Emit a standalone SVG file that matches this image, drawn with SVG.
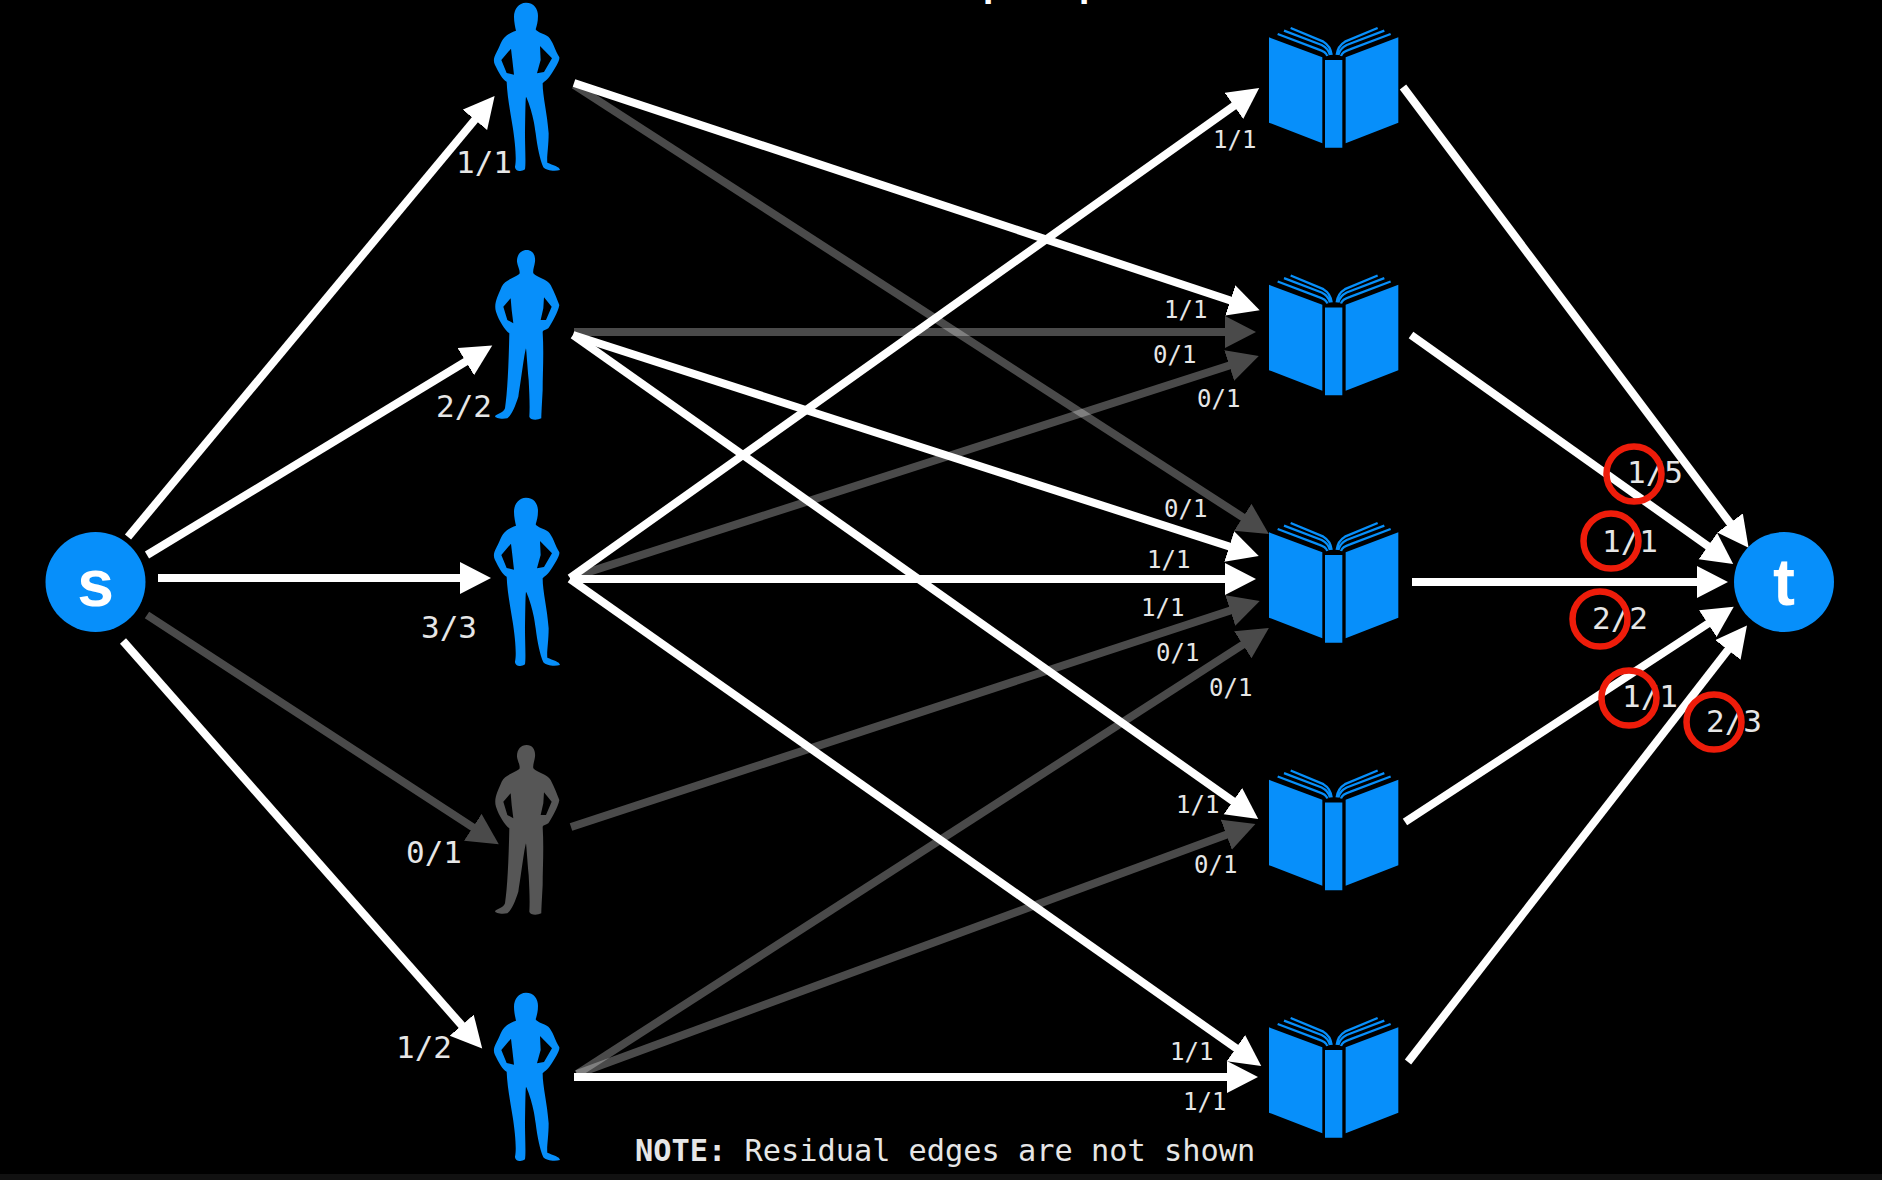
<svg xmlns="http://www.w3.org/2000/svg" width="1882" height="1180" viewBox="0 0 1882 1180">
<style>
.w{stroke:#fff;stroke-width:8;fill:none;marker-end:url(#aw)}
.g{stroke:#fff;stroke-width:8;fill:none;marker-end:url(#aw);opacity:.29}
.l{font-family:"DejaVu Sans Mono",monospace;fill:#e6e6e6;font-size:31px}
.m{font-family:"DejaVu Sans Mono",monospace;fill:#e6e6e6;font-size:24px}
.n{font-family:"DejaVu Sans Mono",monospace;fill:#e6e6e6;font-size:30.3px}
.c{font-family:"Liberation Sans",Arial,sans-serif;font-weight:700;font-size:66px;fill:#fff;text-anchor:middle}
.r{fill:none;stroke:#ee1c0a;stroke-width:6.500}
.b{fill:#078ffa}
.p{fill:none;stroke:#078ffa;stroke-width:7}
.q{font-family:"DejaVu Sans",sans-serif;font-weight:700;font-size:30px;fill:#fff}
</style>
<defs>
<marker id="aw" markerUnits="userSpaceOnUse" markerWidth="34" markerHeight="34" refX="5" refY="16" orient="auto"><path d="M0 0L31 16L0 32Z" fill="#fff"/></marker>
<path id="female" fill-rule="evenodd" d="M258 8C282 8 294 26 294 48C294 66 290 78 287 88C293 98 310 100 325 110C338 122 345 150 358 172C360 182 345 205 332 225C322 240 312 245 308 250C308 290 322 340 326 400C326 440 320 470 322 488C338 495 360 500 360 510C345 515 318 512 310 502C300 480 292 440 287 400C282 350 264 300 258 290C256 305 256 350 255 400C255 440 258 490 255 508C242 518 225 512 225 500C230 480 226 430 218 380C210 330 202 290 200 245C188 240 175 215 165 195C155 175 170 160 180 135C190 110 205 100 228 92C226 82 222 66 222 50C222 28 236 8 258 8ZM213 146L184 180L200 219L222 224L217 180ZM300 138L336 175L312 216L291 220L302 180Z"/>
<path id="male" fill-rule="evenodd" d="M170 30C188 30 197 45 195 65C193 80 188 90 190 100C200 112 232 118 242 135C255 160 262 180 268 195C265 215 245 250 235 265C228 270 220 270 218 275C222 340 218 400 218 450C216 490 214 520 214 535C200 542 180 540 178 530C180 500 178 460 176 420C172 380 170 340 168 325C162 345 155 410 145 470C135 500 125 525 112 535C95 538 75 535 75 528C85 520 100 518 105 505C112 460 116 380 118 280C105 270 88 245 78 215C70 190 85 165 95 140C105 120 130 115 148 102C152 92 143 80 141 65C140 45 152 30 170 30ZM122 175L100 200L112 240L130 250L125 210ZM222 172L245 200L228 240L212 240L220 205Z"/>
<g id="book">
<path class="b" d="M87 112L247 172V430L87 368ZM317 172L475 112V368L317 430ZM255 180H307V443H255Z"/>
<path class="p" d="M152 84L250 125Q272 138 275 165M132 92L245 135Q265 145 270 165M113 102L235 148Q258 155 262 168M413 84L315 125Q293 138 290 165M433 92L320 135Q300 145 295 165M452 102L330 148Q307 155 303 168"/>
</g>
</defs>
<rect width="1882" height="1180" fill="#000"/>
<rect y="1174" width="1882" height="6" fill="#111"/>
<text class="q" x="983" y="-2">p</text>
<text class="q" x="1079" y="-2">p</text>
<g id="connectors">
<path class="g" d="M574 85L1247 520"/>
<path class="g" d="M574 332H1230"/>
<path class="g" d="M570 578L1234 364"/>
<path class="g" d="M571 827L1235 609"/>
<path class="g" d="M577 1074L1247 642"/>
<path class="g" d="M577 1074L1231 833"/>
<path class="g" d="M147 615L477 830"/>
<path class="w" d="M128 537L478 116"/>
<path class="w" d="M147 555L470 359"/>
<path class="w" d="M158 578H465"/>
<path class="w" d="M123 641L465 1029"/>
<path class="w" d="M574 83L1235 302"/>
<path class="w" d="M573 335L1234 548"/>
<path class="w" d="M573 335L1237 804"/>
<path class="w" d="M570 578L1238 103"/>
<path class="w" d="M570 579H1230"/>
<path class="w" d="M570 579L1240 1051"/>
<path class="w" d="M574 1077H1232"/>
<path class="w" d="M1403 87L1733 527"/>
<path class="w" d="M1411 335L1712 549"/>
<path class="w" d="M1412 582H1702"/>
<path class="w" d="M1405 822L1712 621"/>
<path class="w" d="M1408 1062L1731 646"/>
</g>
<g id="s"><circle cx="95.500" cy="582" r="50" class="b"/><text class="c" x="95.500" y="606">s</text></g>
<g id="t"><circle cx="1784" cy="582" r="50" class="b"/><text class="c" x="1784" y="605">t</text></g>
<g id="person1"><use href="#female" class="b" transform="translate(440 0) scale(.3333)"/></g>
<g id="person2"><use href="#male" class="b" transform="translate(470 240) scale(.3333)"/></g>
<g id="person3"><use href="#female" class="b" transform="translate(440 495) scale(.3333)"/></g>
<g id="person4"><use href="#male" fill="#565656" transform="translate(470 735) scale(.3333)"/></g>
<g id="person5"><use href="#female" class="b" transform="translate(440 990) scale(.3333)"/></g>
<g id="book1"><use href="#book" transform="translate(1240 0) scale(.3333)"/></g>
<g id="book2"><use href="#book" transform="translate(1240 247.500) scale(.3333)"/></g>
<g id="book3"><use href="#book" transform="translate(1240 495) scale(.3333)"/></g>
<g id="book4"><use href="#book" transform="translate(1240 742.500) scale(.3333)"/></g>
<g id="book5"><use href="#book" transform="translate(1240 990) scale(.3333)"/></g>
<g id="labels">
<text class="l" x="456" y="173">1/1</text>
<text class="l" x="436" y="417">2/2</text>
<text class="l" x="421" y="638">3/3</text>
<text class="l" x="406" y="863">0/1</text>
<text class="l" x="396" y="1058">1/2</text>
<text class="m" x="1213" y="148">1/1</text>
<text class="m" x="1164" y="318">1/1</text>
<text class="m" x="1153" y="363">0/1</text>
<text class="m" x="1197" y="407">0/1</text>
<text class="m" x="1164" y="517">0/1</text>
<text class="m" x="1147" y="568">1/1</text>
<text class="m" x="1141" y="616">1/1</text>
<text class="m" x="1156" y="661">0/1</text>
<text class="m" x="1209" y="696">0/1</text>
<text class="m" x="1176" y="813">1/1</text>
<text class="m" x="1194" y="873">0/1</text>
<text class="m" x="1170" y="1060">1/1</text>
<text class="m" x="1183" y="1110">1/1</text>
<text class="l" x="1627" y="483">1/5</text>
<text class="l" x="1602" y="552">1/1</text>
<text class="l" x="1592" y="629">2/2</text>
<text class="l" x="1622" y="707">1/1</text>
<text class="l" x="1706" y="732">2/3</text>
<text class="n" x="635" y="1161"><tspan font-weight="700">NOTE:</tspan> Residual edges are not shown</text>
</g>
<g id="marks">
<circle class="r" cx="1634" cy="474" r="27.500"/>
<circle class="r" cx="1611" cy="541" r="27.500"/>
<circle class="r" cx="1600" cy="619" r="27.500"/>
<circle class="r" cx="1629" cy="698" r="27.500"/>
<circle class="r" cx="1714" cy="722" r="27.500"/>
</g>
</svg>
